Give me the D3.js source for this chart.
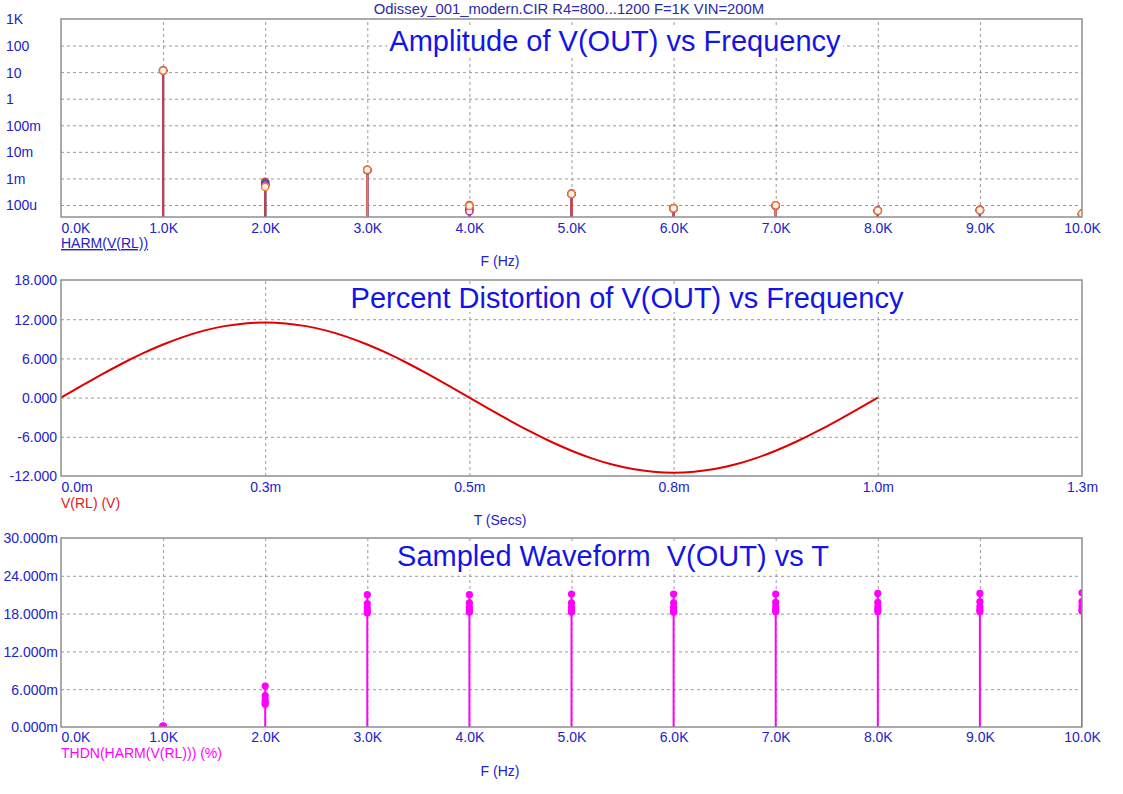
<!DOCTYPE html>
<html><head><meta charset="utf-8">
<script src="https://cdn.jsdelivr.net/npm/d3@7/dist/d3.min.js"></script>
<style>
body{margin:0;background:#fff}
text{font-family:"Liberation Sans",Arial,sans-serif}
</style>
</head><body>
<svg id="chart" width="1123" height="794"></svg>
<script>
// ---------------- DATA ----------------
const chartSubtitle = "Odissey_001_modern.CIR R4=800...1200 F=1K VIN=200M";
const titleAmp = "Amplitude of V(OUT) vs Frequency";
const titleDist = "Percent Distortion of V(OUT) vs Frequency";
const titleWave = "Sampled Waveform  V(OUT) vs T";

const freqTicks = [0,1000,2000,3000,4000,5000,6000,7000,8000,9000,10000];
const freqLabels = ["0.0K","1.0K","2.0K","3.0K","4.0K","5.0K","6.0K","7.0K","8.0K","9.0K","10.0K"];
const harmFreqs = [1000,2000,3000,4000,5000,6000,7000,8000,9000,10000];

// HARM(V(RL)) per stepped run (R4 = 800, 900, 1000, 1100, 1200), volts
const harmRun800  = [11.6, 0.00075, 0.00205, 0.000100, 0.00027, 0.000076, 0.000095, 0.000062, 0.000065, 0.000046];
const harmRun900  = [11.55,0.00067, 0.00207, 0.000080, 0.00026, 0.000075, 0.000095, 0.000061, 0.000064, 0.000046];
const harmRun1000 = [11.55,0.00060, 0.00208, 0.000068, 0.00026, 0.000075, 0.000095, 0.000061, 0.000064, 0.000046];
const harmRun1100 = [11.5, 0.00054, 0.00210, 0.000058, 0.00026, 0.000075, 0.000095, 0.000061, 0.000064, 0.000046];
const harmRun1200 = [11.5, 0.00048, 0.00212, 0.000092, 0.00026, 0.000075, 0.000097, 0.000061, 0.000064, 0.000047];

const ampTicks  = [1000,100,10,1,0.1,0.01,0.001,0.0001];
const ampLabels = ["1K","100","10","1","100m","10m","1m","100u"];
const ampMin = 3.535e-5;

// V(RL) transient, time in ms
const timeMs = [0,0.025,0.05,0.075,0.1,0.125,0.15,0.175,0.2,0.225,0.25,0.275,0.3,0.325,0.35,0.375,0.4,0.425,0.45,0.475,0.5,
                0.525,0.55,0.575,0.6,0.625,0.65,0.675,0.7,0.725,0.75,0.775,0.8,0.825,0.85,0.875,0.9,0.925,0.95,0.975,1.0];
const vrl = [0,1.80,3.55,5.22,6.76,8.13,9.30,10.25,10.94,11.36,11.50,11.36,10.94,10.25,9.30,8.13,6.76,5.22,3.55,1.80,0,
             -1.80,-3.55,-5.22,-6.76,-8.13,-9.30,-10.25,-10.94,-11.36,-11.50,-11.36,-10.94,-10.25,-9.30,-8.13,-6.76,-5.22,-3.55,-1.80,0];
const timeTicksMs = [0,0.25,0.5,0.75,1.0,1.25];
const timeLabels = ["0.0m","0.3m","0.5m","0.8m","1.0m","1.3m"];
const voltTicks = [18,12,6,0,-6,-12];
const voltLabels = ["18.000","12.000","6.000","0.000","-6.000","-12.000"];

// THDN(HARM(V(RL))) in %, per run
const thdRun800  = [0.0002, 0.0065, 0.0210, 0.0210, 0.0211, 0.0211, 0.0211, 0.0212, 0.0212, 0.0213];
const thdRun900  = [0.0001, 0.0050, 0.0196, 0.0197, 0.0197, 0.0197, 0.0198, 0.0198, 0.0199, 0.0199];
const thdRun1000 = [0.0001, 0.0043, 0.0189, 0.0190, 0.0190, 0.0190, 0.0191, 0.0191, 0.0191, 0.0192];
const thdRun1100 = [0.0001, 0.0039, 0.0184, 0.0185, 0.0185, 0.0185, 0.0186, 0.0186, 0.0186, 0.0187];
const thdRun1200 = [0.0001, 0.0036, 0.0181, 0.0182, 0.0182, 0.0182, 0.0183, 0.0183, 0.0183, 0.0184];
const thdTicks = [0.030,0.024,0.018,0.012,0.006,0];
const thdLabels = ["30.000m","24.000m","18.000m","12.000m","6.000m","0.000m"];

// ---------------- STYLE ----------------
const harmRuns = [
  {v: harmRun800,  c:"#d23a44"},
  {v: harmRun900,  c:"#2e8b2e"},
  {v: harmRun1000, c:"#3a3ad8"},
  {v: harmRun1100, c:"#b030b0"},
  {v: harmRun1200, c:"#f07a38"}
];
const thdRuns = [thdRun800, thdRun900, thdRun1000, thdRun1100, thdRun1200];
const tickColor = "#2222cc";
const titleColor = "#1414e6";
const gridColor = "#9a9a9a";
const borderColor = "#8f8f8f";

const svg = d3.select("#chart");
const X0 = 61, X1 = 1082;
const P = {
  top: {y0: 19,  y1: 217},
  mid: {y0: 280, y1: 476},
  bot: {y0: 538, y1: 727}
};

const xFreq = d3.scaleLinear().domain([0,10000]).range([X0,X1]);
const xTime = d3.scaleLinear().domain([0,1.25]).range([X0,X1]);
const yAmp  = d3.scaleLog().domain([ampMin,1000]).range([P.top.y1,P.top.y0]);
const yVolt = d3.scaleLinear().domain([-12,18]).range([P.mid.y1,P.mid.y0]);
const yThd  = d3.scaleLinear().domain([0,0.030]).range([P.bot.y1,P.bot.y0]);

// clip paths
const defs = svg.append("defs");
Object.entries(P).forEach(([k,p])=>{
  defs.append("clipPath").attr("id","clip-"+k).append("rect")
    .attr("x",X0).attr("y",p.y0-6).attr("width",X1-X0).attr("height",p.y1-p.y0+6);
});

function grid(p, xScale, xVals, yScale, yVals){
  const g = svg.append("g");
  g.append("g").attr("transform",`translate(0,${p.y1})`)
    .call(d3.axisBottom(xScale).tickValues(xVals).tickSize(-(p.y1-p.y0)).tickFormat(""))
    .call(a=>{a.select(".domain").remove();
      a.selectAll("line").attr("stroke",gridColor).attr("stroke-dasharray","3,3");});
  g.append("g").attr("transform",`translate(${X0},0)`)
    .call(d3.axisLeft(yScale).tickValues(yVals).tickSize(-(X1-X0)).tickFormat(""))
    .call(a=>{a.select(".domain").remove();
      a.selectAll("line").attr("stroke",gridColor).attr("stroke-dasharray","3,3");});
}
function border(p){
  svg.append("rect").attr("x",X0).attr("y",p.y0).attr("width",X1-X0).attr("height",p.y1-p.y0)
    .attr("fill","none").attr("stroke",borderColor).attr("stroke-width",1.5);
}
function xLabels(p, xScale, vals, labels, baseline){
  const ax = svg.append("g").attr("transform",`translate(0,${p.y1})`)
    .call(d3.axisBottom(xScale).tickValues(vals).tickSize(0)
      .tickFormat((d,i)=>labels[i]));
  ax.select(".domain").remove();
  ax.selectAll("text").attr("y",baseline-p.y1).attr("dy",null)
    .attr("fill",tickColor).attr("font-size",14)
    .attr("font-family","Liberation Sans, Arial, sans-serif")
    .attr("text-anchor",(d,i)=> i===0 ? "start" : "middle");
}
function yLabels(yScale, vals, labels, anchor, xPos){
  const ax = svg.append("g").attr("transform",`translate(${X0},0)`)
    .call(d3.axisLeft(yScale).tickValues(vals).tickSize(0).tickFormat((d,i)=>labels[i]));
  ax.select(".domain").remove();
  ax.selectAll("text").attr("x",xPos-X0).attr("dy","0.35em")
    .attr("fill",tickColor).attr("font-size",14)
    .attr("font-family","Liberation Sans, Arial, sans-serif")
    .attr("text-anchor",anchor);
}
function title(txt, cx, baseline){
  const g = svg.append("g");
  const t = g.append("text").attr("x",cx).attr("y",baseline).attr("text-anchor","middle")
    .attr("font-size",29).attr("fill",titleColor).style("white-space","pre").text(txt);
  const bb = t.node().getBBox();
  g.insert("rect","text").attr("x",bb.x-2).attr("y",bb.y+2).attr("width",bb.width+4).attr("height",bb.height-4).attr("fill","#fff");
}
function plainText(txt, x, y, color, anchor, size, underline){
  const t = svg.append("text").attr("x",x).attr("y",y).attr("fill",color)
    .attr("text-anchor",anchor||"start").attr("font-size",size||14).style("white-space","pre").text(txt);
  if(underline) t.attr("text-decoration","underline");
  return t;
}

// subtitle
plainText(chartSubtitle, 569, 14, "#2a2aa8", "middle", 14.8);

// ---------- TOP PANEL ----------
grid(P.top, xFreq, freqTicks.slice(1,-1), yAmp, ampTicks.slice(1));
title(titleAmp, 615, 51);
const gTop = svg.append("g").attr("clip-path","url(#clip-top)");
harmFreqs.forEach((f,i)=>{
  const order = harmRuns.map(r=>r).sort((a,b)=>a.v[i]-b.v[i]);
  order.forEach(r=>{
    gTop.append("line").attr("x1",xFreq(f)).attr("x2",xFreq(f))
      .attr("y1",yAmp(ampMin)).attr("y2",yAmp(r.v[i]))
      .attr("stroke",r.c).attr("stroke-width",2);
  });
});
harmRuns.forEach(r=>{
  gTop.selectAll(null).data(harmFreqs).enter().append("circle")
    .attr("cx",d=>xFreq(d)).attr("cy",(d,i)=>yAmp(r.v[i])).attr("r",3.6)
    .attr("fill","#fff4e6").attr("stroke",r.c).attr("stroke-width",1.5);
});
border(P.top);
xLabels(P.top, xFreq, freqTicks, freqLabels, 233);
yLabels(yAmp, ampTicks, ampLabels, "start", 6);
plainText("HARM(V(RL))", 61, 248, tickColor, "start", 14, true);
plainText("F (Hz)", 500, 266, tickColor, "middle", 14);

// ---------- MIDDLE PANEL ----------
grid(P.mid, xTime, timeTicksMs.slice(1,-1), yVolt, voltTicks.slice(1,-1));
title(titleDist, 627, 308);
const pts = timeMs.map((t,i)=>[t,vrl[i]]);
svg.append("path").datum(pts)
  .attr("d", d3.line().x(d=>xTime(d[0])).y(d=>yVolt(d[1])).curve(d3.curveNatural))
  .attr("fill","none").attr("stroke","#e00000").attr("stroke-width",2);
border(P.mid);
xLabels(P.mid, xTime, timeTicksMs, timeLabels, 492);
yLabels(yVolt, voltTicks, voltLabels, "end", 57);
plainText("V(RL) (V)", 61, 508, "#e02020", "start", 14);
plainText("T (Secs)", 500, 525, tickColor, "middle", 14);

// ---------- BOTTOM PANEL ----------
grid(P.bot, xFreq, freqTicks.slice(1,-1), yThd, thdTicks.slice(1,-1));
title(titleWave, 613, 566);
const gBot = svg.append("g").attr("clip-path","url(#clip-bot)");
const thdColor = "#ff00ff";
harmFreqs.forEach((f,i)=>{
  const mx = d3.max(thdRuns, r=>r[i]);
  gBot.append("line").attr("x1",xFreq(f)).attr("x2",xFreq(f))
    .attr("y1",yThd(0)).attr("y2",yThd(mx)).attr("stroke",thdColor).attr("stroke-width",2);
});
thdRuns.forEach(r=>{
  gBot.selectAll(null).data(harmFreqs).enter().append("circle")
    .attr("cx",d=>xFreq(d)).attr("cy",(d,i)=>yThd(r[i])).attr("r",3.6).attr("fill",thdColor);
});
border(P.bot);
xLabels(P.bot, xFreq, freqTicks, freqLabels, 742);
yLabels(yThd, thdTicks, thdLabels, "end", 58);
plainText("THDN(HARM(V(RL))) (%)", 61, 758, thdColor, "start", 14);
plainText("F (Hz)", 500, 776, tickColor, "middle", 14);
</script>
</body></html>
